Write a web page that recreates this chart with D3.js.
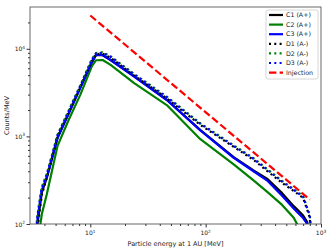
<!DOCTYPE html>
<html lang="en">
<head>
  <meta charset="UTF-8">
  <title>Particle spectra</title>
  <script src="https://cdn.jsdelivr.net/npm/d3@7/dist/d3.min.js"></script>
  <style>
    body { margin: 0; background: #fff; font-family: "DejaVu Sans", sans-serif; }
    svg { display: block; }
    .axis path, .axis line { stroke: #333; }
  </style>
</head>
<body>
  <div id="plot-area"></div>

  <script type="text/javascript">
    // energy grid (MeV) shared by all series
    var energy = [3.3, 3.5, 3.8, 4.2, 5.2, 6.5, 8.2, 10.3, 11.2, 12.8, 15, 24, 46, 90, 175, 260, 340, 460, 580, 620, 700, 760, 800, 830];

    // counts/MeV
    var c1 = [45, 105, 230, 340, 970, 1830, 3600, 7000, 8450, 8450, 7450, 4850, 2620, 1180, 580, 410, 330, 225, 160, 147, 125, 105, 50, 20];
    var c2 = [30, 60, 130, 220, 780, 1550, 3000, 6300, 7400, 7450, 6560, 4050, 2280, 930, 480, 315, 234, 165, 118, 100, 55, 35, 25, 18];
    var c3 = [55, 120, 245, 340, 960, 1830, 3600, 7000, 8500, 8500, 7450, 4800, 2600, 1170, 570, 400, 315, 210, 150, 137, 117, 100, 40, 20];
    var d1 = [40, 95, 215, 340, 1000, 1900, 3700, 7300, 8700, 8800, 7900, 4950, 2720, 1350, 760, 540, 405, 295, 238, 223, 198, 145, 118, 55];
    var d2 = [60, 135, 265, 375, 1050, 1980, 3850, 7600, 8950, 9100, 8200, 5150, 2850, 1410, 790, 565, 425, 310, 250, 235, 208, 152, 126, 62];
    var d3v = [58, 130, 260, 370, 1030, 1950, 3800, 7500, 8900, 9000, 8100, 5100, 2800, 1390, 775, 556, 419, 305, 245, 230, 205, 150, 125, 60];

    // injection spectrum
    var injEnergy = [10, 800];
    var injCounts = [24000, 190];

    var seriesNames = ["C1 (A+)", "C2 (A+)", "C3 (A+)", "D1 (A-)", "D2 (A-)", "D3 (A-)", "Injection"];
    var xTicks = [10, 100, 1000];
    var yTicks = [100, 1000, 10000];

    var W = 332, H = 250;
    var margin = {top: 7, right: 11, bottom: 26, left: 30};
    var width = W - margin.left - margin.right,
        height = H - margin.top - margin.bottom;

    var svg = d3.select("#plot-area").append("svg")
      .attr("width", W)
      .attr("height", H);

    var g = svg.append("g")
      .attr("transform", "translate(" + margin.left + "," + margin.top + ")");

    var x = d3.scaleLog().domain([3, 1000]).range([0, width]);
    var y = d3.scaleLog().domain([100, 30000]).range([height, 0]);

    // minor ticks
    function minors(lo, hi) {
      var out = [];
      for (var p = 0; p <= 4; p++) {
        for (var m = 2; m <= 9; m++) {
          var v = m * Math.pow(10, p);
          if (v > lo && v < hi) out.push(v);
        }
      }
      return out;
    }

    g.append("g").attr("class", "axis")
      .attr("transform", "translate(0," + height + ")")
      .call(d3.axisBottom(x).tickValues(minors(3, 1000)).tickSize(2).tickFormat(""))
      .select(".domain").remove();
    g.append("g").attr("class", "axis")
      .attr("transform", "translate(0," + height + ")")
      .call(d3.axisBottom(x).tickValues(xTicks).tickSize(3.5).tickFormat(""))
      .select(".domain").remove();
    g.append("g").attr("class", "axis")
      .call(d3.axisLeft(y).tickValues(minors(100, 30000)).tickSize(2).tickFormat(""))
      .select(".domain").remove();
    g.append("g").attr("class", "axis")
      .call(d3.axisLeft(y).tickValues(yTicks).tickSize(3.5).tickFormat(""))
      .select(".domain").remove();

    // tick labels with superscript exponents
    xTicks.forEach(function(v) {
      var t = g.append("text")
        .attr("x", x(v))
        .attr("y", height + 11)
        .attr("text-anchor", "middle")
        .attr("font-size", "6px")
        .attr("fill", "#222")
        .text("10");
      t.append("tspan").attr("dy", "-2.5").attr("font-size", "4.3px").text(Math.round(Math.log10(v)));
    });
    yTicks.forEach(function(v) {
      var t = g.append("text")
        .attr("x", -5)
        .attr("y", y(v) + 2.5)
        .attr("text-anchor", "end")
        .attr("font-size", "6px")
        .attr("fill", "#222")
        .text("10");
      t.append("tspan").attr("dy", "-2.5").attr("font-size", "4.3px").text(Math.round(Math.log10(v)));
    });

    // axis titles
    svg.append("text")
      .attr("x", margin.left + width / 2)
      .attr("y", H - 4)
      .attr("text-anchor", "middle")
      .attr("font-size", "6.5px")
      .attr("fill", "#222")
      .text("Particle energy at 1 AU [MeV]");
    svg.append("text")
      .attr("transform", "translate(9," + (margin.top + height / 2) + ") rotate(-90)")
      .attr("text-anchor", "middle")
      .attr("font-size", "6.5px")
      .attr("fill", "#222")
      .text("Counts/MeV");

    // clip to axes area
    svg.append("defs").append("clipPath").attr("id", "clip")
      .append("rect").attr("width", width).attr("height", height);

    var plot = g.append("g").attr("clip-path", "url(#clip)");

    var line = d3.line()
      .x(function(d) { return x(d[0]); })
      .y(function(d) { return y(d[1]); });

    function pairs(xs, ys) {
      return xs.map(function(e, i) { return [e, ys[i]]; });
    }

    var styles = [
      {data: pairs(energy, c1), color: "#000000", dash: null},
      {data: pairs(energy, c2), color: "#008000", dash: null},
      {data: pairs(energy, c3), color: "#0000ff", dash: null},
      {data: pairs(energy, d1), color: "#000000", dash: "2,3.3"},
      {data: pairs(energy, d2), color: "#008000", dash: "2,3.3"},
      {data: pairs(energy, d3v), color: "#0000ff", dash: "2,3.3"},
      {data: pairs(injEnergy, injCounts), color: "#ff0000", dash: "7.4,3.2"}
    ];

    styles.forEach(function(s) {
      plot.append("path")
        .datum(s.data)
        .attr("fill", "none")
        .attr("stroke", s.color)
        .attr("stroke-width", 2.2)
        .attr("stroke-dasharray", s.dash)
        .attr("stroke-linejoin", "round")
        .attr("d", line);
    });

    // frame
    g.append("rect")
      .attr("width", width)
      .attr("height", height)
      .attr("fill", "none")
      .attr("stroke", "#444")
      .attr("stroke-width", 0.8);

    // legend
    var lg = svg.append("g").attr("transform", "translate(266,10)");
    lg.append("rect")
      .attr("width", 52).attr("height", 69)
      .attr("rx", 2)
      .attr("fill", "#fff").attr("fill-opacity", 0.8)
      .attr("stroke", "#ccc").attr("stroke-width", 0.8);
    styles.forEach(function(s, i) {
      var yy = 5 + i * 9.6;
      lg.append("line")
        .attr("x1", 3).attr("x2", 17)
        .attr("y1", yy).attr("y2", yy)
        .attr("stroke", s.color)
        .attr("stroke-width", 2.2)
        .attr("stroke-dasharray", s.dash);
      lg.append("text")
        .attr("x", 20).attr("y", yy + 2.2)
        .attr("font-size", "6.3px")
        .attr("fill", "#222")
        .text(seriesNames[i]);
    });
  </script>
</body>
</html>
